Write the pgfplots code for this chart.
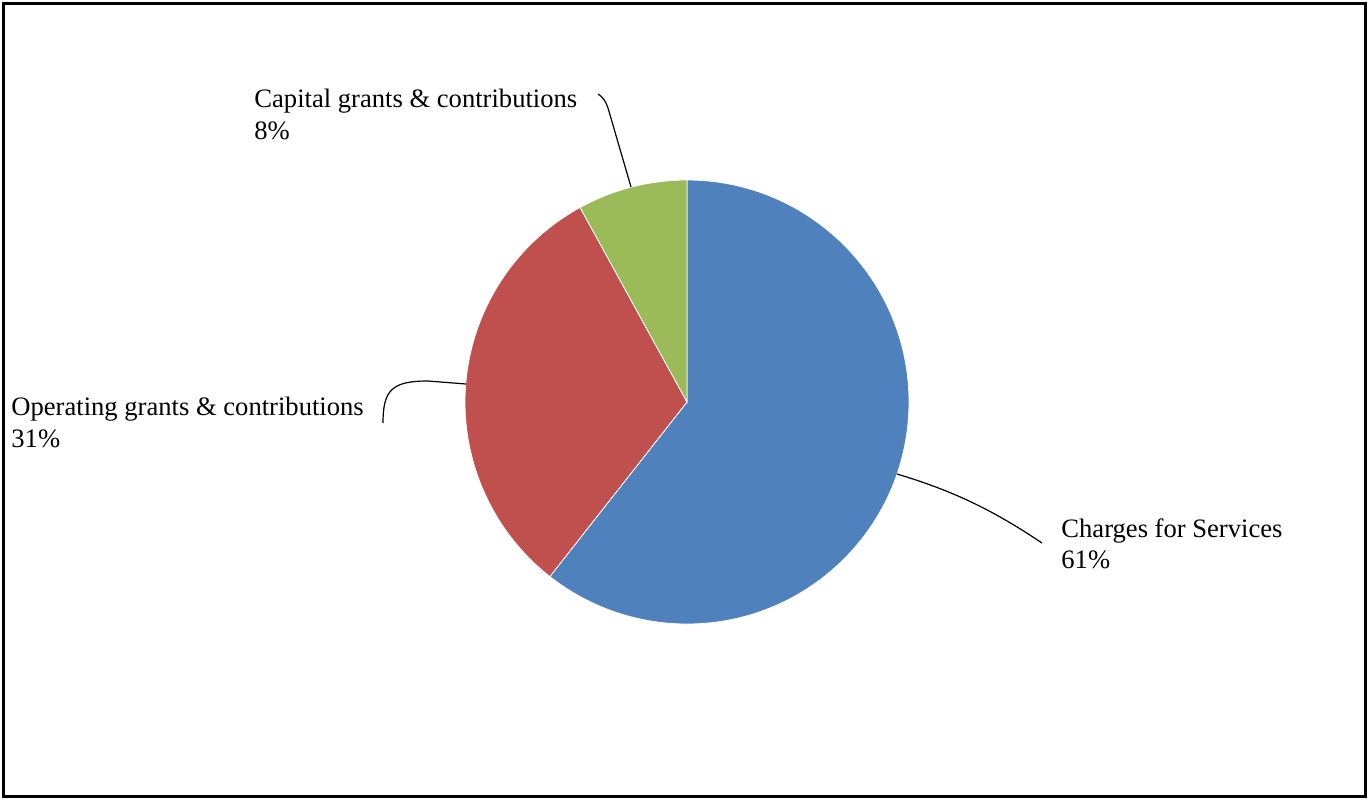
\documentclass[border=0pt]{standalone}
\usepackage{fontspec}
\setmainfont{Liberation Serif}
\usepackage{pgfplots}
\usepackage{pgfplotstable}
\pgfplotsset{compat=1.18}
\definecolor{cblue}{HTML}{4F81BD}
\definecolor{cred}{HTML}{C0504D}
\definecolor{cgreen}{HTML}{9BBB59}
\pgfplotstableread{
value
60.6
31.4
8.0
}\piedata
\begin{document}%
\begin{tikzpicture}
\pgfplotstablegetelem{0}{value}\of\piedata \edef\va{\pgfplotsretval}
\pgfplotstablegetelem{1}{value}\of\piedata \edef\vb{\pgfplotsretval}
\pgfplotstablegetelem{2}{value}\of\piedata \edef\vc{\pgfplotsretval}
\pgfmathsetmacro{\aA}{90}
\pgfmathsetmacro{\aB}{90-\va*3.6}
\pgfmathsetmacro{\aC}{\aB-\vb*3.6}
\pgfmathsetmacro{\aD}{\aC-\vc*3.6}
\begin{axis}[
  x=0.5pt, y=0.5pt,
  xmin=0, xmax=1369, ymin=0, ymax=800,
  hide axis, clip=false,
]
\addplot[draw=none] coordinates {(0,0) (1369,800)};
\draw[black, line width=1.6pt] (axis cs:3.5,3.5) rectangle (axis cs:1365.5,796.5);
\filldraw[fill=cblue, draw=white, line width=0.4pt] (axis cs:687,398) -- ++(\aA:111pt) arc[start angle=\aA, end angle=\aB, radius=111pt] -- cycle;
\filldraw[fill=cred, draw=white, line width=0.4pt] (axis cs:687,398) -- ++(\aB:111pt) arc[start angle=\aB, end angle=\aC, radius=111pt] -- cycle;
\filldraw[fill=cgreen, draw=white, line width=0.4pt] (axis cs:687,398) -- ++(\aC:111pt) arc[start angle=\aC, end angle=\aD, radius=111pt] -- cycle;
% leader lines
\draw[black, line width=0.6pt] (axis cs:598,706) .. controls (axis cs:603,703) and (axis cs:606,698) .. (axis cs:608,692) -- (axis cs:631,613);
\draw[black, line width=0.6pt] (axis cs:466,416) -- (axis cs:428,419) .. controls (axis cs:392,419) and (axis cs:383,410) .. (axis cs:383,377);
\draw[black, line width=0.6pt] (axis cs:897,326) .. controls (axis cs:950,310) and (axis cs:990,292) .. (axis cs:1042,257);
% labels
\begin{scope}[every node/.style={inner sep=0pt, anchor=base west, font=\fontsize{13.3}{16}\selectfont}]
\node at (axis cs:254,692) {Capital grants \& contributions};
\node at (axis cs:254,661) {8\%};
\node at (axis cs:11,385) {Operating grants \& contributions};
\node at (axis cs:11,353) {31\%};
\node at (axis cs:1061,263) {Charges for Services};
\node at (axis cs:1061,232) {61\%};
\end{scope}
\end{axis}
\end{tikzpicture}%
\end{document}
